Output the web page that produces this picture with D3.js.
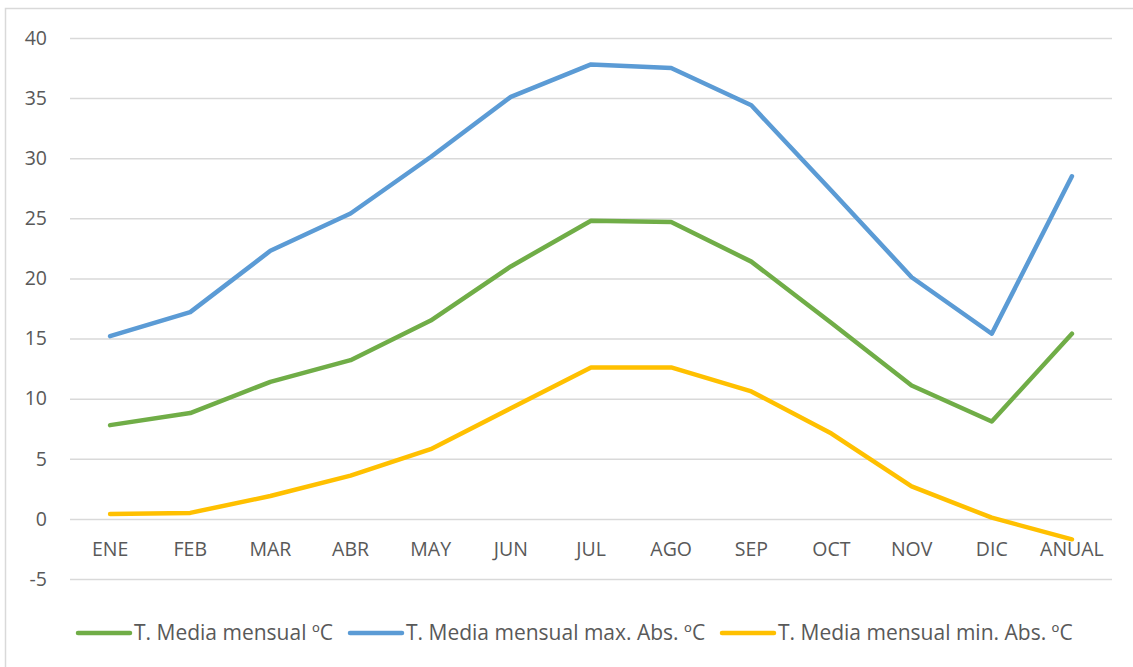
<!DOCTYPE html>
<html>
<head>
<meta charset="utf-8">
<script src="https://cdn.jsdelivr.net/npm/d3@7"></script>
<style>
  body { margin: 0; background: #fff; }
  svg text { font-family: "Open Sans", Lato, sans-serif; fill: #595959; }
</style>
</head>
<body>
<figure id="temp-chart" style="margin:0"></figure>
<script>
const months = ["ENE", "FEB", "MAR", "ABR", "MAY", "JUN", "JUL", "AGO", "SEP", "OCT", "NOV", "DIC", "ANUAL"];
const tMedia = [7.8, 8.8, 11.4, 13.2, 16.5, 21.0, 24.8, 24.7, 21.4, 16.3, 11.1, 8.1, 15.4];
const tMax = [15.2, 17.2, 22.3, 25.4, 30.1, 35.1, 37.8, 37.5, 34.4, 27.3, 20.1, 15.4, 28.5];
const tMin = [0.4, 0.5, 1.9, 3.6, 5.8, 9.2, 12.6, 12.6, 10.6, 7.1, 2.7, 0.1, -1.7];
const yTicks = [-5, 0, 5, 10, 15, 20, 25, 30, 35, 40];
const seriesNames = ["T. Media mensual ºC", "T. Media mensual max. Abs. ºC", "T. Media mensual min. Abs. ºC"];

const width = 1133, height = 667;
const plotLeft = 70, plotRight = 1112, plotTop = 38, plotBottom = 579;

const svg = d3.select("figure#temp-chart")
  .append("svg")
  .attr("width", width)
  .attr("height", height);

// chart border
svg.append("rect")
  .attr("x", 5.5).attr("y", 8.5)
  .attr("width", width).attr("height", height)
  .attr("fill", "none")
  .attr("stroke", "#d9d9d9")
  .attr("stroke-width", 1.5);

const x = d3.scaleBand()
  .domain(months)
  .range([plotLeft, plotRight]);

const y = d3.scaleLinear()
  .domain([-5, 40])
  .range([plotBottom, plotTop]);

// gridlines + y labels (plain hyphen for negatives, like the original)
const yAxis = svg.append("g")
  .attr("transform", `translate(${plotLeft},0)`)
  .call(d3.axisLeft(y).tickValues(yTicks).tickFormat(d => String(d))
    .tickSize(-(plotRight - plotLeft)).tickPadding(23));
yAxis.select(".domain").remove();
yAxis.selectAll("line").attr("stroke", "#d9d9d9").attr("stroke-width", 1.5);
yAxis.selectAll("text")
  .style("font-size", "19.5px")
  .style("font-family", "'Open Sans', Lato, sans-serif")
  .attr("fill", "#595959");

// category labels sit below the zero line
const xAxis = svg.append("g")
  .attr("transform", `translate(0,${y(0)})`)
  .call(d3.axisBottom(x).tickSize(0).tickPadding(23));
xAxis.select(".domain").remove();
xAxis.selectAll("text")
  .style("font-size", "19.5px")
  .style("font-family", "'Open Sans', Lato, sans-serif")
  .attr("fill", "#595959");

const series = [
  { name: seriesNames[0], values: tMedia, color: "#70ad47" },
  { name: seriesNames[1], values: tMax, color: "#5b9bd5" },
  { name: seriesNames[2], values: tMin, color: "#ffc000" }
];

const line = d3.line()
  .x((d, i) => x(months[i]) + x.bandwidth() / 2)
  .y(d => y(d));

svg.selectAll("path.series")
  .data(series)
  .enter()
  .append("path")
  .attr("class", "series")
  .attr("d", d => line(d.values))
  .attr("fill", "none")
  .attr("stroke", d => d.color)
  .attr("stroke-width", 4.5)
  .attr("stroke-linejoin", "round")
  .attr("stroke-linecap", "round");

// legend
const legendX = [78, 350, 722];
const legend = svg.selectAll("g.legend")
  .data(series)
  .enter()
  .append("g")
  .attr("class", "legend")
  .attr("transform", (d, i) => `translate(${legendX[i]},633)`);

legend.append("line")
  .attr("x1", 0).attr("x2", 52)
  .attr("stroke", d => d.color)
  .attr("stroke-width", 4.5)
  .attr("stroke-linecap", "round");

legend.append("text")
  .attr("x", 56)
  .attr("dy", "0.35em")
  .style("font-size", "21px")
  .text(d => d.name);
</script>
</body>
</html>
